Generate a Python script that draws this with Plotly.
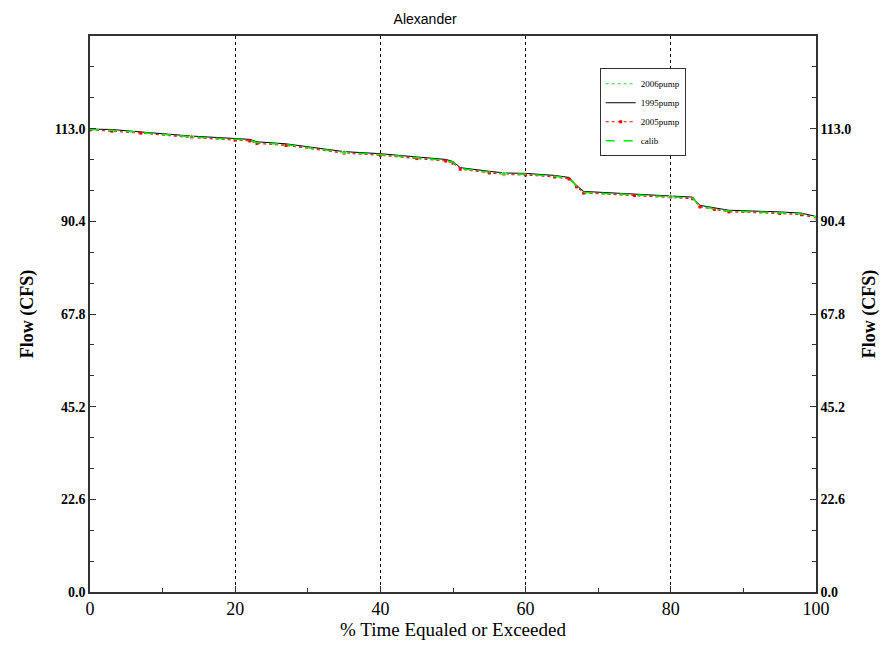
import plotly.graph_objects as go

# % time equaled or exceeded
pct = [0, 3, 7, 14, 20, 22, 23, 27, 35, 40, 45, 49, 50, 51, 55, 57, 60, 64, 66, 67,
       68, 75, 80, 83, 84, 86, 88, 95, 98, 100]

flow_2006 = [112.8, 112.6, 112.1, 111.0, 110.4, 110.2, 109.6, 109.1, 107.2, 106.7,
             105.9, 105.3, 104.8, 103.3, 102.4, 102.0, 101.9, 101.4, 100.9, 99.0,
             97.5, 96.9, 96.4, 96.1, 94.1, 93.5, 92.9, 92.5, 92.2, 91.4]
flow_1995 = [112.9, 112.8, 112.2, 111.2, 110.6, 110.4, 109.8, 109.3, 107.4, 106.9,
             106.1, 105.5, 105.0, 103.5, 102.6, 102.2, 102.1, 101.6, 101.1, 99.2,
             97.7, 97.1, 96.6, 96.3, 94.3, 93.7, 93.1, 92.7, 92.4, 91.6]
flow_2005 = [112.7, 112.4, 111.9, 110.8, 110.2, 110.0, 109.4, 108.9, 107.0, 106.5,
             105.7, 105.1, 104.6, 103.1, 102.2, 101.8, 101.7, 101.2, 100.7, 98.8,
             97.3, 96.7, 96.2, 95.9, 93.9, 93.3, 92.7, 92.3, 92.0, 91.2]
flow_calib = [112.8, 112.6, 112.1, 111.0, 110.4, 110.2, 109.6, 109.1, 107.2, 106.7,
              105.9, 105.3, 104.8, 103.3, 102.4, 102.0, 101.9, 101.4, 100.9, 99.0,
              97.5, 96.9, 96.4, 96.1, 94.1, 93.5, 92.9, 92.5, 92.2, 91.4]
calib_marker_pct = [14, 35, 57, 80, 100]

y_ticks = [0.0, 22.6, 45.2, 67.8, 90.4, 113.0]
y_tick_text = ["0.0", "22.6", "45.2", "67.8", "90.4", "113.0"]
x_ticks = [0, 20, 40, 60, 80, 100]

serif = "Liberation Serif, Times New Roman, serif"

fig = go.Figure()
fig.add_trace(go.Scatter(x=pct, y=flow_2006, name="2006pump", mode="lines",
                         line=dict(color="#33dd33", width=1, dash="dot")))
fig.add_trace(go.Scatter(x=pct, y=flow_1995, name="1995pump", mode="lines",
                         line=dict(color="black", width=1)))
fig.add_trace(go.Scatter(x=pct, y=flow_2005, name="2005pump", mode="lines+markers",
                         line=dict(color="red", width=1, dash="dot"),
                         marker=dict(symbol="square", size=3, color="red")))
msize = [6 if p in calib_marker_pct else 0 for p in pct]
fig.add_trace(go.Scatter(x=pct, y=flow_calib, name="calib", mode="lines+markers",
                         line=dict(color="#00ee00", width=1.5, dash="dash"),
                         marker=dict(symbol="triangle-up", size=msize, color="#00ee00")))
# invisible trace to show right axis
fig.add_trace(go.Scatter(x=[pct[0]], y=[flow_1995[0]], yaxis="y2", mode="markers",
                         marker=dict(opacity=0), showlegend=False, hoverinfo="skip"))

axis_common = dict(showline=True, linecolor="#333", linewidth=1.5, zeroline=False,
                   ticks="inside", ticklen=6, tickcolor="#333", automargin=False)

fig.update_layout(
    width=880, height=633,
    margin=dict(l=82, r=72, t=28, b=49),
    paper_bgcolor="white", plot_bgcolor="white",
    title=dict(text="Alexander", x=0.474, xanchor="center", y=0.99, yanchor="top",
               font=dict(family="Liberation Sans, Arial, sans-serif", size=14, color="black")),
    xaxis=dict(range=[0, 100], tickvals=x_ticks, mirror=True,
               showgrid=True, gridcolor="black", griddash="dot", gridwidth=1,
               tickfont=dict(family=serif, size=18, color="black"),
               title=dict(text="% Time Equaled or Exceeded", standoff=2,
                          font=dict(family=serif, size=19, color="black")),
               minor=dict(tickvals=[10, 30, 50, 70, 90], ticks="inside", ticklen=4,
                          tickcolor="#333", showgrid=False),
               **axis_common),
    yaxis=dict(range=[0, 135.6], tickvals=y_ticks, ticktext=y_tick_text, showgrid=False,
               tickfont=dict(family=serif, size=14, color="black", weight="bold"),
               title=dict(text="Flow (CFS)", standoff=16,
                          font=dict(family=serif, size=18, color="black", weight="bold")),
               minor=dict(dtick=7.5333, tick0=0, ticks="inside", ticklen=4, tickcolor="#333"),
               **axis_common),
    yaxis2=dict(range=[0, 135.6], tickvals=y_ticks, ticktext=y_tick_text, showgrid=False,
                overlaying="y", side="right",
                tickfont=dict(family=serif, size=14, color="black", weight="bold"),
                title=dict(text="Flow (CFS)", standoff=12,
                           font=dict(family=serif, size=18, color="black", weight="bold")),
                minor=dict(dtick=7.5333, tick0=0, ticks="inside", ticklen=4, tickcolor="#333"),
                **axis_common),
    legend=dict(x=0.702, y=0.942, xanchor="left", yanchor="top",
                bgcolor="white", bordercolor="#333", borderwidth=1,
                font=dict(family=serif, size=9, color="black"),
                tracegroupgap=0, itemwidth=30),
    showlegend=True,
)

fig.write_html("out.html")
